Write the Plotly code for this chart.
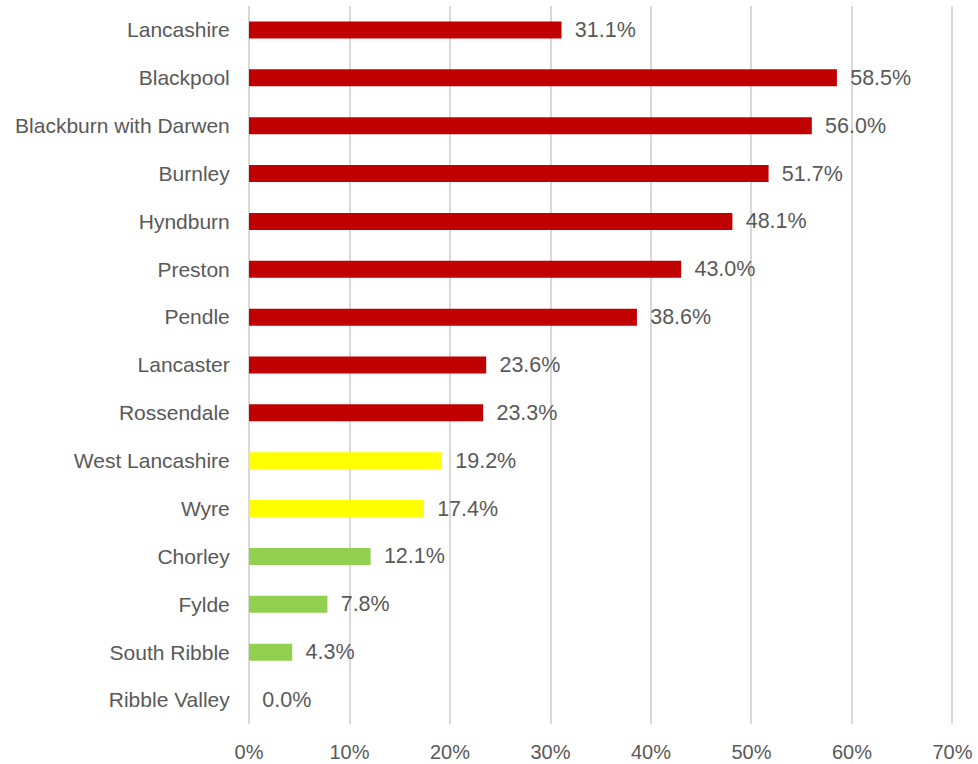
import plotly.graph_objects as go

areas = ["Lancashire", "Blackpool", "Blackburn with Darwen", "Burnley", "Hyndburn",
         "Preston", "Pendle", "Lancaster", "Rossendale", "West Lancashire", "Wyre",
         "Chorley", "Fylde", "South Ribble", "Ribble Valley"]
values = [0.311, 0.585, 0.560, 0.517, 0.481, 0.430, 0.386, 0.236, 0.233, 0.192,
          0.174, 0.121, 0.078, 0.043, 0.000]
colors = ["#C00000"] * 9 + ["#FFFF00"] * 2 + ["#92D050"] * 4
tick_vals = [0, 0.1, 0.2, 0.3, 0.4, 0.5, 0.6, 0.7]

FONT = "Liberation Sans, Arial"
fig = go.Figure(go.Bar(
    y=areas, x=values, orientation="h",
    marker=dict(color=colors, line=dict(width=0)),
    text=["\u00a0\u2009" + f"{v*100:.1f}%" for v in values],
    textposition="outside", cliponaxis=False, constraintext="none",
    textfont=dict(family=FONT, size=21.5, color="#595959"),
    hoverinfo="skip",
))

fig.update_layout(
    width=978, height=764,
    margin=dict(l=249, r=24, t=6, b=40),
    paper_bgcolor="white", plot_bgcolor="white",
    bargap=0.645, showlegend=False,
    font=dict(family=FONT, size=21, color="#595959"),
)
fig.update_xaxes(range=[0, 0.7015], tickvals=tick_vals, tickformat=".0%",
                 automargin=False,
                 showgrid=True, gridcolor="#D9D9D9", gridwidth=2,
                 zeroline=True, zerolinecolor="#D9D9D9", zerolinewidth=2,
                 showline=False, ticks="outside", ticklen=10, tickcolor="rgba(0,0,0,0)",
                 tickfont=dict(family=FONT, size=20, color="#595959"))
fig.update_yaxes(range=[14.5, -0.5], automargin=False, showgrid=False, zeroline=False,
                 showline=False, ticks="outside", ticklen=14, tickcolor="rgba(0,0,0,0)",
                 tickfont=dict(family=FONT, size=21, color="#595959"))

fig.write_html(
    "out.html",
    config={"displayModeBar": False},
    post_script="document.body.style.margin='0';document.body.style.overflow='hidden';",
)
